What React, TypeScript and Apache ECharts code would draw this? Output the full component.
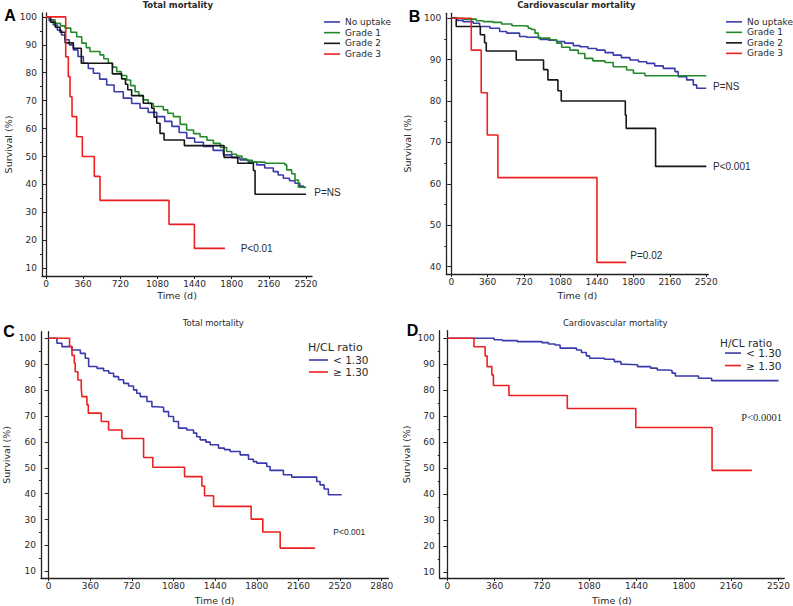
import React, { useEffect, useRef } from "react";
import * as echarts from "echarts";

// ---------- tick values ----------
const timeTicks2520 = [0, 360, 720, 1080, 1440, 1800, 2160, 2520];
const timeTicks2880 = [0, 360, 720, 1080, 1440, 1800, 2160, 2520, 2880];
const survTicks10 = [10, 20, 30, 40, 50, 60, 70, 80, 90, 100];
const survMinor10 = [15, 25, 35, 45, 55, 65, 75, 85, 95];
const survTicks40 = [40, 50, 60, 70, 80, 90, 100];
const survMinor40 = [45, 55, 65, 75, 85, 95];

// ---------- series names ----------
const gradeNames = ["No uptake", "Grade 1", "Grade 2", "Grade 3"];
const ratioNames = ["< 1.30", "\u2265 1.30"];

// ---------- Panel A: total mortality by grade ([day, survival %]) ----------
const aNoUptake = [[0,100],[30,98.6],[71,97.1],[110,95.2],[150,93.5],[184,91.8],[225,90],[265,88.2],[310,85.8],[362,83.4],[410,81.5],[459,79.8],[520,77.7],[588,75.6],[660,73.2],[749,70.9],[830,69],[911,67.3],[990,65.8],[1073,64.3],[1150,62.6],[1220,60.8],[1290,58.6],[1364,56.6],[1440,55.1],[1525,53.6],[1620,52.2],[1719,50.6],[1800,49.6],[1880,48.8],[1960,48],[2042,47],[2120,45.9],[2203,44.6],[2250,43.4],[2300,42.2],[2360,41.3],[2413,40.4],[2460,39.4],[2494,39],[2520,39]];
const aGrade1 = [[0,100],[40,99],[87,97.7],[140,96.8],[184,96],[240,94.5],[297,92.9],[346,90.6],[390,89],[426,87.6],[523,86.4],[560,85],[604,83.4],[645,82],[685,80.4],[730,79],[782,77.4],[820,75.4],[863,73.2],[900,71.8],[943,70.3],[990,69],[1040,67.9],[1137,66.7],[1180,65.5],[1234,64.3],[1300,61.5],[1363,59.5],[1430,58.2],[1493,57.1],[1560,55.8],[1622,54.7],[1690,53.2],[1751,51.8],[1800,50.8],[1848,50.2],[1900,49.2],[1945,48.6],[2000,48],[2123,47.6],[2316,47],[2333,45.2],[2381,43.8],[2413,41.6],[2446,39],[2500,38.8],[2510,38.8]];
const aGrade2 = [[0,100],[23,100],[45,98.1],[90,96.3],[136,94.5],[185,90.7],[265,88.8],[342,83.4],[643,79.6],[733,77.8],[770,75.9],[792,73.9],[830,71.8],[943,69.1],[1024,67.3],[1047,64.1],[1073,61.9],[1105,58.3],[1144,55.9],[1341,53.9],[1725,49.7],[1858,47.6],[2010,45],[2026,36.5],[2520,36.5]];
const aGrade3 = [[0,100],[191,85.7],[216,78.6],[233,71.4],[252,64.3],[297,57.1],[352,50],[468,42.9],[523,34.3],[1192,25.7],[1438,17.1],[1735,17.1]];

// ---------- Panel B: cardiovascular mortality by grade ----------
const bNoUptake = [[0,100],[60,99.5],[115,99.2],[217,98.8],[280,98],[382,97.6],[478,96.8],[547,96.4],[675,95.6],[745,95.4],[877,94.9],[960,94.7],[1042,94.4],[1120,94],[1206,93.4],[1272,93.1],[1350,92.7],[1437,92.3],[1520,91.7],[1601,91.1],[1680,90.5],[1766,89.9],[1850,89.5],[1931,89.1],[2010,88.5],[2095,87.9],[2211,87.1],[2243,85.9],[2326,85.1],[2392,83.9],[2425,83.1],[2520,83.1]];
const bGrade1 = [[0,100],[115,99.8],[247,99.4],[316,99.2],[412,99],[498,98.6],[600,98.2],[712,98.1],[761,97.6],[791,97.3],[827,96.4],[860,95.2],[975,94.8],[1042,94],[1091,93],[1173,92.3],[1255,91.5],[1320,90.3],[1400,89.7],[1519,89.3],[1601,88.3],[1733,87.5],[1800,86.7],[1914,86.1],[2520,86.1]];
const bGrade2 = [[0,100],[49,98],[287,96],[329,94.1],[346,92.1],[642,89.9],[912,87.6],[955,85.1],[1054,82.5],[1087,80],[1720,76.6],[1729,73.4],[2019,64.2],[2520,64.2]];
const bGrade3 = [[0,100],[198,92.3],[296,82],[356,71.8],[461,61.5],[1440,41],[1729,41]];

// ---------- Panel C: total mortality by H/CL ratio ----------
const cLow = [[0,100],[72,98.1],[115,96.8],[202,95.5],[274,94.2],[317,92.3],[346,89.1],[418,88.4],[475,87.5],[520,86.5],[562,85.2],[605,84],[648,82.6],[691,81.6],[734,80.1],[762,78.8],[792,77.5],[850,75.6],[893,73.6],[936,73.4],[994,71.7],[1037,69.8],[1080,67.9],[1123,65.3],[1195,64.6],[1253,63.4],[1280,62],[1310,60.8],[1360,59.9],[1397,58.9],[1469,57.6],[1520,57],[1570,56.3],[1656,55],[1728,53.3],[1770,52.4],[1800,51.8],[1886,50.5],[1915,49],[2030,47.3],[2102,46.4],[2290,46.4],[2318,44.7],[2347,43.4],[2382,41.8],[2419,39.6],[2534,39.6]];
const cHigh = [[0,100],[181,96.8],[202,93.4],[222,90.4],[230,87.1],[253,83.9],[282,80.7],[288,77.5],[331,74.3],[343,71.1],[455,67.9],[518,64.6],[634,61.3],[821,54],[901,50.2],[1175,46.6],[1325,43],[1348,39.2],[1426,35.1],[1751,30.2],[1852,25.2],[2002,19],[2304,19]];

// ---------- Panel D: cardiovascular mortality by H/CL ratio ----------
const dLow = [[0,100],[344,100],[356,99.4],[419,99.1],[532,98.7],[695,98.7],[720,98.3],[770,97.8],[820,97.4],[858,96.2],[945,96.2],[983,95.5],[1021,94.5],[1058,93.2],[1083,92.3],[1196,91.9],[1271,91],[1321,90],[1349,89.8],[1447,89.1],[1547,88.5],[1597,87.8],[1685,87.6],[1710,86.6],[1735,85.5],[1848,85.5],[1911,84.6],[1999,84.6],[2011,83.7],[2520,83.7]];
const dHigh = [[0,100],[203,96.7],[288,93.2],[303,89.1],[339,85.9],[351,81.8],[469,78],[913,73],[1434,65.7],[2014,49.2],[2317,49.2]];

const BLUE = "#3a3aab";
const GREEN = "#23892a";
const BLACK = "#161616";
const RED = "#ee2020";
const AXIS = "#222";
const TXT = "#2a2a2a";
const SANS = "DejaVu Sans";

type Panel = {
  grid: { left: number; top: number; width: number; height: number };
  x: [number, number];
  y: [number, number];
  xTicks: number[];
  yTicks: number[];
  yMinor: number[];
  xNameGap: number;
  yNameGap: number;
};

const panels: Panel[] = [
  { grid: { left: 42, top: 13, width: 270, height: 263 }, x: [-39, 2578], y: [7.2, 101.4], xTicks: timeTicks2520, yTicks: survTicks10, yMinor: survMinor10, xNameGap: 14, yNameGap: 29 },
  { grid: { left: 446.3, top: 13.3, width: 262, height: 260.7 }, x: [-49, 2540], y: [38.2, 101.2], xTicks: timeTicks2520, yTicks: survTicks40, yMinor: survMinor40, xNameGap: 16, yNameGap: 34 },
  { grid: { left: 40.7, top: 331.7, width: 347.6, height: 246.6 }, x: [-66, 2937], y: [7.45, 102.55], xTicks: timeTicks2880, yTicks: survTicks10, yMinor: survMinor10, xNameGap: 17, yNameGap: 30 },
  { grid: { left: 439.7, top: 330.7, width: 348.3, height: 247.6 }, x: [-57.7, 2563], y: [7.8, 102.9], xTicks: timeTicks2520, yTicks: survTicks10, yMinor: survMinor10, xNameGap: 17, yNameGap: 28 },
];

function line(name: string, data: number[][], color: string, grid: number) {
  return {
    type: "line",
    name,
    data,
    step: "end",
    xAxisIndex: grid,
    yAxisIndex: grid * 2,
    symbol: "none",
    showSymbol: false,
    lineStyle: { color, width: 1.6 },
    itemStyle: { color },
    silent: true,
  };
}

function txt(text: string, x: number, y: number, font: string, align = "left", fill = TXT) {
  return { type: "text", x, y, silent: true, style: { text, font, fill, align, verticalAlign: "middle" } };
}

const plain = (v: number) => String(v);

export default function App() {
  const ref = useRef<HTMLDivElement>(null);
  useEffect(() => {
    if (!ref.current) return;
    const chart = echarts.init(ref.current, null, { renderer: "svg" });

    const grids = panels.map((p) => ({ ...p.grid }));
    const xAxes = panels.map((p, i) => ({
      type: "value",
      gridIndex: i,
      position: "bottom",
      min: p.x[0],
      max: p.x[1],
      name: "Time (d)",
      nameLocation: "middle",
      nameGap: p.xNameGap,
      nameTextStyle: { fontSize: 9.5, color: TXT, fontFamily: SANS },
      splitLine: { show: false },
      axisLine: { show: true, lineStyle: { color: AXIS, width: 1.3 } },
      axisTick: { show: true, length: 3, customValues: p.xTicks, lineStyle: { color: AXIS, width: 1 } },
      axisLabel: { customValues: p.xTicks, formatter: plain, fontSize: 9, color: TXT, fontFamily: SANS, margin: 3 },
    }));
    const yAxes: any[] = [];
    panels.forEach((p, i) => {
      yAxes.push({
        type: "value",
        gridIndex: i,
        position: "left",
        min: p.y[0],
        max: p.y[1],
        name: "Survival (%)",
        nameLocation: "middle",
        nameGap: p.yNameGap,
        nameTextStyle: { fontSize: 9.5, color: TXT, fontFamily: SANS },
        splitLine: { show: false },
        axisLine: { show: true, lineStyle: { color: AXIS, width: 1.3 } },
        axisTick: { show: true, length: 4, customValues: p.yTicks, lineStyle: { color: AXIS, width: 1 } },
        axisLabel: { customValues: p.yTicks, formatter: plain, fontSize: 9, color: TXT, fontFamily: SANS, margin: 5 },
      });
      yAxes.push({
        type: "value",
        gridIndex: i,
        position: "left",
        offset: 0,
        min: p.y[0],
        max: p.y[1],
        splitLine: { show: false },
        axisLine: { show: true, lineStyle: { color: AXIS, width: 1.3 } },
        axisTick: { show: true, length: 2, customValues: p.yMinor, lineStyle: { color: AXIS, width: 1 } },
        axisLabel: { show: false },
      });
    });

    const series = [
      line(gradeNames[0], aNoUptake, BLUE, 0),
      line(gradeNames[1], aGrade1, GREEN, 0),
      line(gradeNames[2], aGrade2, BLACK, 0),
      line(gradeNames[3], aGrade3, RED, 0),
      line(gradeNames[0], bNoUptake, BLUE, 1),
      line(gradeNames[1], bGrade1, GREEN, 1),
      line(gradeNames[2], bGrade2, BLACK, 1),
      line(gradeNames[3], bGrade3, RED, 1),
      line(ratioNames[0], cLow, BLUE, 2),
      line(ratioNames[1], cHigh, RED, 2),
      line(ratioNames[0], dLow, BLUE, 3),
      line(ratioNames[1], dHigh, RED, 3),
    ];

    const legendBase = {
      orient: "vertical",
      padding: 0,
      selectedMode: false,
      icon: "rect",
      itemWidth: 16,
      itemHeight: 1.6,
      itemGap: 0,
    };

    const graphic = [
      txt("A", 10, 15.5, 'bold 16px "Liberation Sans"', "center", "#000"),
      txt("B", 414.5, 16.5, 'bold 16px "Liberation Sans"', "center", "#000"),
      txt("C", 9, 331.5, 'bold 16px "Liberation Sans"', "center", "#000"),
      txt("D", 412.5, 330, 'bold 16px "Liberation Sans"', "center", "#000"),
      txt("Total mortality", 177.8, 5, `bold 8.5px "${SANS}"`, "center"),
      txt("Cardiovascular mortality", 576.3, 5, `bold 8.5px "${SANS}"`, "center"),
      txt("Total mortality", 213.3, 323.3, `8.5px "${SANS}"`, "center"),
      txt("Cardiovascular mortality", 615.2, 323.3, `8.5px "${SANS}"`, "center"),
      txt("P=NS", 314.3, 192, '10px "Liberation Sans"'),
      txt("P<0.01", 240.7, 248.3, '10px "Liberation Sans"'),
      txt("P=NS", 713, 86, '10px "Liberation Sans"'),
      txt("P<0.001", 713, 166.7, '10px "Liberation Sans"'),
      txt("P=0.02", 630.3, 255, '10px "Liberation Sans"'),
      txt("P<0.001", 333.3, 531.7, '8.5px "Liberation Sans"'),
      txt("P<0.0001", 741.3, 417.3, '10.5px "Liberation Serif"'),
      txt("H/CL ratio", 308, 347, `11px "${SANS}"`),
      txt("H/CL ratio", 720, 342.5, `10.5px "${SANS}"`),
    ];

    chart.setOption({
      animation: false,
      backgroundColor: "#fff",
      textStyle: { fontFamily: SANS },
      grid: grids,
      xAxis: xAxes,
      yAxis: yAxes,
      series,
      legend: [
        { ...legendBase, left: 324, top: 16.6, data: gradeNames, textStyle: { fontSize: 9, lineHeight: 10.7, color: TXT, fontFamily: SANS } },
        { ...legendBase, left: 726, top: 16.6, data: gradeNames, textStyle: { fontSize: 9, lineHeight: 10.5, color: TXT, fontFamily: SANS } },
        { ...legendBase, left: 309, top: 354, itemWidth: 19, data: ratioNames, textStyle: { fontSize: 10.5, lineHeight: 12, color: TXT, fontFamily: SANS } },
        { ...legendBase, left: 725, top: 346.8, data: ratioNames, textStyle: { fontSize: 10.5, lineHeight: 12.5, color: TXT, fontFamily: SANS } },
      ],
      graphic,
    });
    return () => chart.dispose();
  }, []);
  return (
    <div
      ref={ref}
      style={{ position: "absolute", left: 0, top: 0, width: 793, height: 606, background: "#fff" }}
    />
  );
}
